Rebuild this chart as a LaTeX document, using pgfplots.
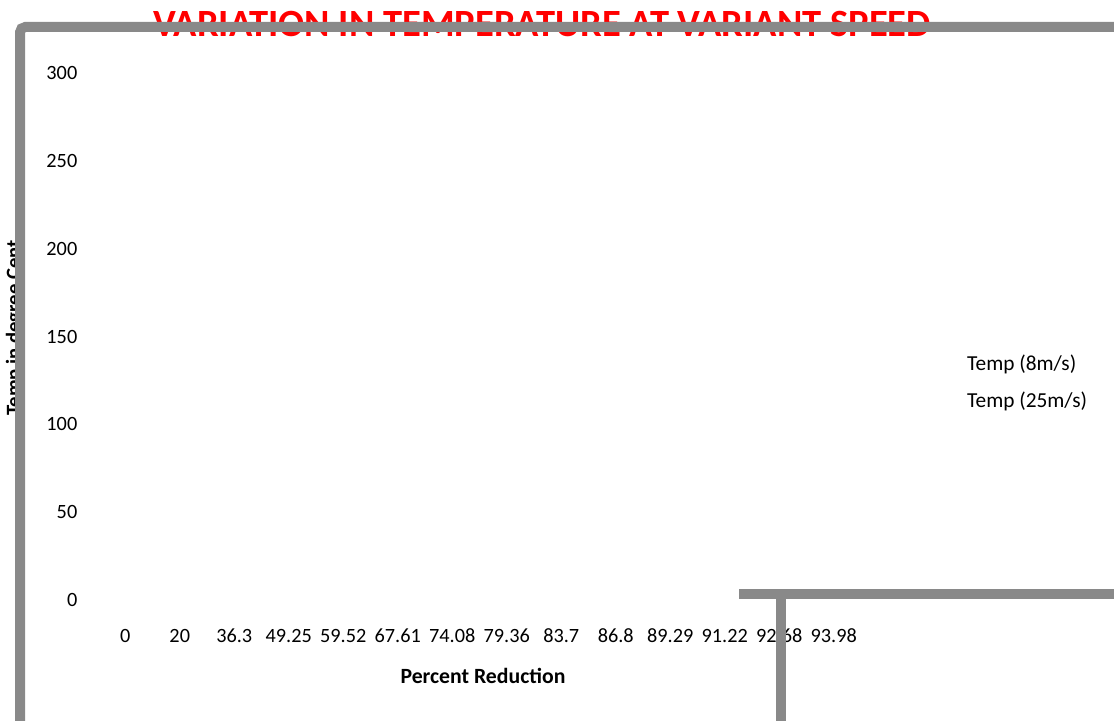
\documentclass[border=0pt]{standalone}
\usepackage{pgfplots}
\pgfplotsset{compat=1.18}
\usepackage{fontspec}
\setmainfont{Carlito}
\definecolor{framegray}{HTML}{898989}
\definecolor{titlered}{HTML}{FF0000}
\begin{document}
\begin{tikzpicture}[x=0.75pt,y=0.75pt]
\path[use as bounding box, clip] (0,0) rectangle (1114,721);
\coordinate (axorigin) at (98,121);
\begin{axis}[
  at={(axorigin)}, anchor=south west,
  scale only axis, width=572.25pt, height=395.25pt,
  xmin=-0.5, xmax=13.5, ymin=0, ymax=300,
  axis line style={draw=none}, major tick length=0pt,
  xtick={0,1,...,13},
  xticklabels={0,20,36.3,49.25,59.52,67.61,74.08,79.36,83.7,86.8,89.29,91.22,92.68,93.98},
  ytick={0,50,...,300},
  /pgf/number format/assume math mode=true,
  tick label style={font=\fontsize{15.2}{18}\selectfont},
  yticklabel style={anchor=east, xshift=-12pt},
  xticklabel style={anchor=north, yshift=-18.3pt},
  every axis x label/.style={at={(axis description cs:0.5046,-0.1442)}, anchor=center},
  every axis y label/.style={at={(axis description cs:-0.1088,0.516)}, rotate=90, anchor=center},
  xlabel={\fontsize{16.3}{19}\selectfont\bfseries Percent Reduction},
  ylabel={\fontsize{15.5}{18}\selectfont\bfseries Temp in degree Cent},
  legend style={draw=none, fill=none, at={(axis description cs:1.13,0.4136)}, anchor=west,
    font=\fontsize{16}{19}\selectfont, row sep=11pt},
  legend cell align=left,
]
\addlegendimage{empty legend}
\addlegendentry{Temp (8m/s)}
\addlegendimage{empty legend}
\addlegendentry{Temp (25m/s)}
\end{axis}
\node[anchor=base, text=titlered, font=\fontsize{28.9}{34}\selectfont\bfseries] at (542,684) {VARIATION IN TEMPERATURE AT VARIANT SPEED};
\draw[framegray, line width=7.5pt, rounded corners=4pt] (20,-10) -- (20,694) -- (1130,694);
\draw[framegray, line width=7.5pt] (739,127) -- (1130,127);
\draw[framegray, line width=7.5pt] (781,131) -- (781,-10);
\end{tikzpicture}
\end{document}
